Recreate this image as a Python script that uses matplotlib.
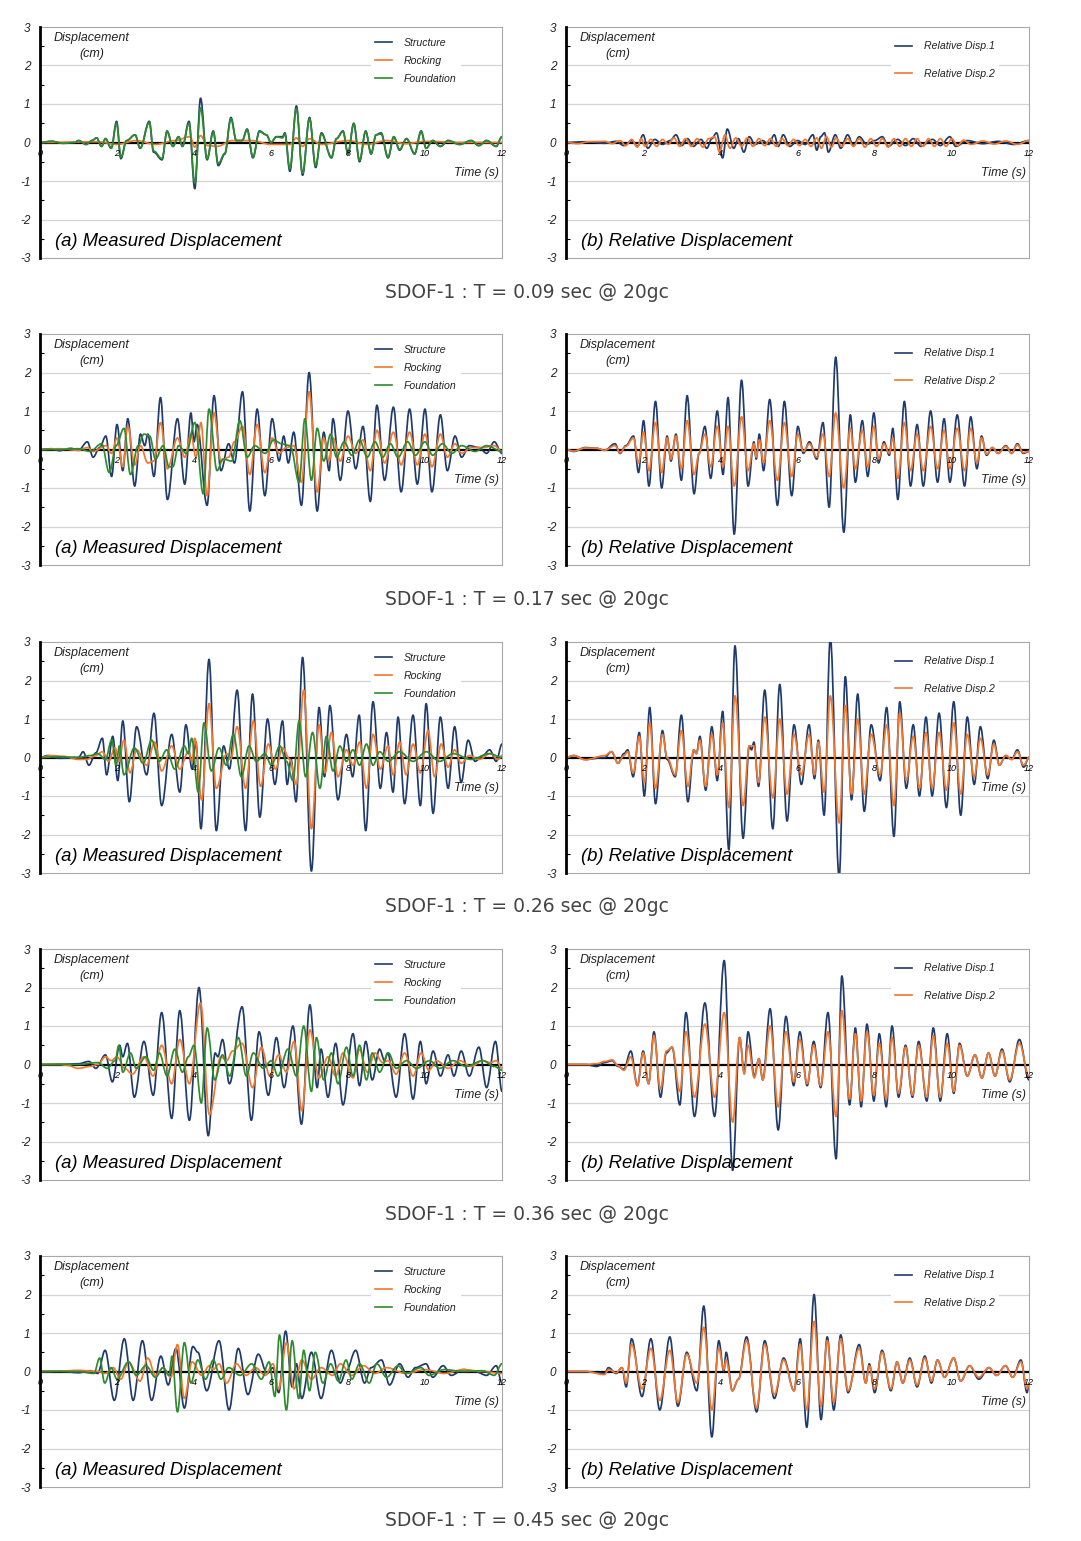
import matplotlib.pyplot as plt
from matplotlib.lines import Line2D
from matplotlib.path import Path
from matplotlib.patches import PathPatch

plt.rcParams['font.family'] = ['Liberation Sans', 'DejaVu Sans']

# periods shown in the captions
periods = ['0.09', '0.17', '0.26', '0.36', '0.45']
legend_a = ['Structure', 'Rocking', 'Foundation']
legend_b = ['Relative Disp.1', 'Relative Disp.2']
time_ticks = [0, 2, 4, 6, 8, 10, 12]

# (time s, displacement cm) peaks
p009_structure = [(0, 0), (0.3, 0.03), (0.6, -0.02), (0.9, 0.0), (1.0, 0.05), (1.2, -0.05), (1.35, 0.05), (1.47, 0.12),
                  (1.6, -0.1), (1.7, 0.1), (1.85, -0.15), (1.99, 0.55), (2.1, -0.42), (2.25, 0.05), (2.47, 0.2), (2.6, -0.15),
                  (2.84, 0.55), (2.95, -0.25), (3.17, -0.45), (3.3, 0.3), (3.45, -0.1), (3.6, 0.15), (3.7, -0.1), (3.87, 0.55),
                  (4.02, -1.2), (4.17, 1.15), (4.34, -0.45), (4.5, 0.3), (4.63, -0.6), (4.8, -0.3), (4.96, 0.65), (5.1, 0.05),
                  (5.25, 0.05), (5.38, 0.35), (5.53, -0.4), (5.7, 0.3), (5.88, 0.2), (6.0, 0.0), (6.14, 0.15), (6.3, 0.15),
                  (6.36, 0.25), (6.49, -0.75), (6.66, 0.95), (6.82, -0.85), (7.0, 0.65), (7.16, -0.65), (7.31, 0.25), (7.57, -0.4),
                  (7.7, 0.1), (7.87, 0.3), (8.0, -0.3), (8.15, 0.5), (8.3, -0.5), (8.46, 0.3), (8.6, -0.3), (8.73, 0.2),
                  (8.86, 0.25), (9.04, -0.4), (9.19, 0.15), (9.34, -0.2), (9.52, 0.1), (9.73, -0.3), (9.9, 0.3), (10.03, -0.15),
                  (10.2, 0.05), (10.4, -0.1), (10.6, 0.05), (10.9, -0.05), (11.2, 0.05), (11.4, -0.08), (11.6, 0.05), (11.85, -0.1),
                  (12, 0.15)]
p009_rocking = [(0, 0), (1.5, 0.02), (2.0, -0.05), (2.5, 0.05), (3.0, -0.05), (3.5, 0.05), (3.9, 0.15), (4.02, -0.12),
                (4.17, 0.18), (4.35, -0.08), (4.6, -0.1), (5.0, 0.05), (5.5, 0.05), (6.0, -0.05), (6.5, -0.05), (6.66, 0.12),
                (6.82, -0.1), (7.0, 0.1), (7.3, -0.05), (8.0, 0.05), (8.5, -0.05), (9.0, 0.05), (9.5, -0.03), (10, 0.03),
                (11, 0), (12, 0)]
p009_foundation = [(0, 0), (0.3, 0.03), (0.6, -0.02), (0.9, 0.0), (1.0, 0.05), (1.2, -0.05), (1.35, 0.05), (1.47, 0.12),
                   (1.6, -0.1), (1.7, 0.1), (1.85, -0.15), (1.99, 0.5), (2.1, -0.38), (2.25, 0.05), (2.47, 0.2), (2.6, -0.15),
                   (2.84, 0.52), (2.95, -0.22), (3.17, -0.42), (3.3, 0.28), (3.45, -0.1), (3.6, 0.15), (3.7, -0.1), (3.87, 0.5),
                   (4.02, -1.05), (4.17, 0.9), (4.34, -0.42), (4.5, 0.28), (4.63, -0.55), (4.8, -0.28), (4.96, 0.62), (5.1, 0.05),
                   (5.25, 0.05), (5.38, 0.33), (5.53, -0.38), (5.7, 0.28), (5.88, 0.2), (6.0, 0.0), (6.14, 0.15), (6.3, 0.12),
                   (6.36, 0.22), (6.49, -0.68), (6.66, 0.88), (6.82, -0.8), (7.0, 0.62), (7.16, -0.6), (7.31, 0.22), (7.57, -0.38),
                   (7.7, 0.1), (7.87, 0.28), (8.0, -0.28), (8.15, 0.48), (8.3, -0.46), (8.46, 0.28), (8.6, -0.28), (8.73, 0.2),
                   (8.86, 0.22), (9.04, -0.38), (9.19, 0.15), (9.34, -0.18), (9.52, 0.1), (9.73, -0.28), (9.9, 0.28), (10.03, -0.15),
                   (10.2, 0.05), (10.4, -0.1), (10.6, 0.05), (10.9, -0.05), (11.2, 0.05), (11.4, -0.08), (11.6, 0.05), (11.85, -0.1),
                   (12, 0.15)]
p009_rel1 = [(0, 0), (0.5, 0.02), (1.0, -0.02), (1.3, 0.03), (1.5, -0.08), (1.7, 0.05), (1.85, -0.1), (2.0, 0.2),
             (2.12, -0.15), (2.3, 0.08), (2.5, -0.05), (2.7, 0.05), (2.85, 0.2), (3.0, -0.08), (3.15, 0.1), (3.3, -0.1),
             (3.5, 0.08), (3.65, -0.15), (3.78, 0.1), (3.9, 0.25), (4.06, -0.4), (4.18, 0.35), (4.35, -0.15), (4.47, 0.1),
             (4.61, -0.25), (4.75, 0.15), (4.9, -0.05), (5.1, 0.05), (5.25, -0.05), (5.4, 0.2), (5.5, -0.1), (5.63, 0.2),
             (5.8, -0.1), (6.0, 0.05), (6.2, -0.05), (6.4, 0.2), (6.5, -0.2), (6.6, 0.15), (6.7, 0.25), (6.8, -0.25),
             (6.98, 0.2), (7.12, -0.15), (7.3, 0.2), (7.45, -0.08), (7.6, 0.15), (7.8, -0.05), (8.0, 0.05), (8.2, 0.15),
             (8.35, -0.1), (8.6, 0.08), (8.8, -0.08), (9.0, 0.1), (9.2, -0.1), (9.5, 0.08), (9.7, -0.08), (9.95, 0.15),
             (10.1, -0.1), (10.4, 0.05), (10.8, -0.03), (11.2, 0.03), (11.6, -0.05), (12, 0.05)]
p009_rel2 = [(0, 0), (0.3, -0.03), (0.6, 0.02), (1.0, 0.03), (1.2, -0.03), (1.4, 0.05), (1.55, -0.08), (1.7, 0.08),
             (1.85, -0.12), (1.95, 0.1), (2.05, -0.1), (2.2, 0.08), (2.35, -0.1), (2.5, 0.08), (2.65, -0.05), (2.8, 0.12),
             (2.95, -0.1), (3.1, 0.1), (3.25, -0.1), (3.4, 0.1), (3.55, -0.12), (3.7, 0.1), (3.85, 0.15), (3.98, -0.25),
             (4.12, 0.2), (4.25, -0.15), (4.4, 0.12), (4.55, -0.1), (4.7, 0.12), (4.85, -0.1), (5.0, 0.1), (5.15, -0.08),
             (5.3, 0.1), (5.45, -0.1), (5.6, 0.1), (5.75, -0.08), (5.9, 0.08), (6.05, -0.08), (6.2, 0.08), (6.35, -0.1),
             (6.5, 0.12), (6.62, -0.15), (6.75, 0.15), (6.88, -0.12), (7.0, 0.12), (7.15, -0.1), (7.3, 0.1), (7.45, -0.1),
             (7.6, 0.1), (7.75, -0.12), (7.9, 0.1), (8.05, -0.1), (8.2, 0.1), (8.35, -0.12), (8.5, 0.1), (8.65, -0.1),
             (8.8, 0.1), (8.95, -0.1), (9.1, 0.1), (9.25, -0.1), (9.4, 0.1), (9.55, -0.1), (9.7, 0.1), (9.85, -0.1),
             (10.0, 0.1), (10.15, -0.08), (10.3, 0.06), (10.5, -0.05), (10.8, 0.04), (11.1, -0.04), (11.4, 0.04), (11.7, -0.05),
             (12, 0.05)]

p017_structure = [(0, 0), (0.3, 0.02), (0.5, -0.03), (0.8, 0.03), (1.0, -0.02), (1.23, 0.2), (1.38, -0.2), (1.55, 0.05),
                  (1.71, 0.35), (1.86, -0.7), (2.0, 0.65), (2.15, -0.55), (2.28, 0.8), (2.46, -0.95), (2.61, 0.4), (2.72, 0.1),
                  (2.8, 0.4), (2.96, -0.7), (3.13, 1.35), (3.31, -1.3), (3.57, 0.8), (3.76, -0.9), (3.92, 0.95), (4.0, 0.2),
                  (4.08, 0.65), (4.34, -1.45), (4.52, 1.4), (4.7, -0.55), (4.9, 0.15), (5.05, -0.35), (5.26, 1.5), (5.45, -1.6),
                  (5.64, 1.05), (5.84, -1.2), (6.03, 0.8), (6.21, -0.3), (6.33, 0.35), (6.45, -0.35), (6.59, 0.45), (6.79, -1.45),
                  (6.99, 2.0), (7.2, -1.6), (7.37, 0.45), (7.51, -0.55), (7.61, 0.8), (7.8, -0.8), (8.0, 1.0), (8.2, -0.5),
                  (8.39, 0.6), (8.58, -1.35), (8.75, 1.15), (8.95, -0.8), (9.18, 1.1), (9.38, -1.1), (9.6, 1.05), (9.8, -0.9),
                  (10.0, 1.05), (10.18, -1.1), (10.4, 0.9), (10.58, -0.55), (10.78, 0.35), (10.95, -0.2), (11.15, 0.1), (11.4, 0.05),
                  (11.6, -0.1), (11.8, 0.2), (12, -0.1)]
p017_rocking = [(0, 0), (0.5, 0.02), (1.0, -0.02), (1.23, 0.05), (1.38, -0.05), (1.71, 0.1), (1.86, -0.1), (2.0, 0.3),
                (2.15, -0.45), (2.28, 0.6), (2.46, -0.4), (2.61, 0.1), (2.8, -0.35), (2.96, -0.3), (3.13, 0.7), (3.31, -0.5),
                (3.57, 0.3), (3.76, -0.2), (3.92, 0.4), (4.05, -0.2), (4.18, 0.7), (4.34, -1.2), (4.52, 0.95), (4.7, -0.3),
                (4.9, -0.2), (5.05, 0.2), (5.26, 0.6), (5.45, -0.65), (5.64, 0.65), (5.84, -0.6), (6.03, 0.3), (6.21, -0.1),
                (6.4, 0.05), (6.59, 0.1), (6.79, -0.85), (6.99, 1.5), (7.2, -1.1), (7.37, 0.3), (7.51, -0.3), (7.61, 0.3),
                (7.8, -0.3), (8.0, 0.35), (8.2, -0.1), (8.39, 0.25), (8.58, -0.55), (8.75, 0.5), (8.95, -0.35), (9.18, 0.45),
                (9.38, -0.4), (9.6, 0.45), (9.8, -0.4), (10.0, 0.4), (10.18, -0.45), (10.4, 0.4), (10.58, -0.2), (10.78, 0.15),
                (10.95, -0.1), (11.2, 0.05), (11.5, 0.05), (11.8, 0.1), (12, -0.05)]
p017_foundation = [(0, 0), (0.5, 0.0), (1.0, 0.02), (1.3, -0.05), (1.6, 0.15), (1.8, -0.6), (1.98, 0.1), (2.18, 0.55),
                   (2.35, -0.65), (2.55, 0.1), (2.7, 0.4), (2.85, 0.35), (3.0, -0.25), (3.2, 0.1), (3.35, -0.45), (3.45, -0.45),
                   (3.6, 0.1), (3.8, -0.1), (4.02, 0.7), (4.24, -1.15), (4.39, 1.05), (4.6, -0.55), (4.75, -0.25), (4.98, -0.3),
                   (5.19, 0.75), (5.38, -0.2), (5.58, 0.1), (5.85, -0.1), (6.07, 0.25), (6.27, 0.15), (6.5, 0.1), (6.73, -0.85),
                   (6.88, 0.8), (7.05, -0.8), (7.2, 0.55), (7.37, -0.3), (7.55, 0.4), (7.7, -0.2), (7.9, 0.2), (8.1, -0.15),
                   (8.3, 0.25), (8.5, -0.2), (8.7, 0.2), (8.9, -0.2), (9.1, 0.15), (9.3, -0.2), (9.55, 0.2), (9.75, -0.15),
                   (10.0, 0.2), (10.2, -0.15), (10.45, 0.15), (10.7, -0.1), (10.95, 0.1), (11.3, -0.05), (11.6, 0.1), (12, -0.05)]
p017_rel1 = [(0, 0), (0.2, -0.05), (0.5, 0.05), (0.8, 0.03), (1.0, -0.02), (1.27, 0.15), (1.4, -0.1), (1.55, 0.1),
             (1.75, 0.35), (1.88, -0.6), (2.01, 0.75), (2.15, -0.95), (2.32, 1.25), (2.48, -1.0), (2.62, 0.35), (2.72, -0.3),
             (2.85, 0.4), (2.99, -0.8), (3.14, 1.4), (3.32, -1.15), (3.45, -0.1), (3.6, 0.6), (3.75, -0.75), (3.92, 1.0),
             (4.07, -0.65), (4.2, 1.35), (4.36, -2.2), (4.55, 1.8), (4.72, -0.95), (4.87, 0.2), (4.93, -0.25), (5.01, 0.4),
             (5.12, -0.55), (5.28, 1.3), (5.48, -1.45), (5.66, 1.25), (5.85, -1.2), (6.01, 0.6), (6.15, -0.1), (6.31, 0.2),
             (6.5, -0.25), (6.66, 0.7), (6.82, -1.5), (6.99, 2.4), (7.2, -2.15), (7.37, 0.9), (7.5, -0.85), (7.68, 0.75),
             (7.82, -0.7), (7.98, 0.95), (8.1, -0.35), (8.24, 0.2), (8.38, -0.15), (8.47, 0.55), (8.6, -1.3), (8.77, 1.25),
             (8.93, -0.95), (9.1, 0.65), (9.26, -0.95), (9.45, 1.0), (9.63, -0.85), (9.8, 0.8), (9.95, -0.85), (10.14, 0.9),
             (10.33, -0.95), (10.49, 0.85), (10.65, -0.5), (10.77, 0.35), (10.9, -0.15), (11.05, 0.05), (11.2, -0.1), (11.4, 0.1),
             (11.55, -0.1), (11.7, 0.15), (11.85, -0.1), (12, -0.05)]
p017_rel2 = [(0, 0), (0.2, -0.04), (0.5, 0.04), (0.8, 0.03), (1.0, -0.02), (1.27, 0.1), (1.4, -0.08), (1.55, 0.08),
             (1.75, 0.3), (1.88, -0.35), (2.01, 0.45), (2.15, -0.55), (2.32, 0.7), (2.48, -0.6), (2.62, 0.3), (2.72, -0.25),
             (2.85, 0.35), (2.99, -0.5), (3.14, 0.75), (3.32, -0.65), (3.45, -0.1), (3.6, 0.4), (3.75, -0.45), (3.92, 0.6),
             (4.07, -0.45), (4.2, 0.6), (4.36, -0.95), (4.55, 0.85), (4.72, -0.55), (4.87, 0.15), (4.93, -0.2), (5.01, 0.25),
             (5.12, -0.35), (5.28, 0.75), (5.48, -0.8), (5.66, 0.7), (5.85, -0.7), (6.01, 0.4), (6.15, -0.05), (6.31, 0.15),
             (6.5, -0.2), (6.66, 0.4), (6.82, -0.7), (6.99, 0.95), (7.2, -1.0), (7.37, 0.55), (7.5, -0.5), (7.68, 0.5),
             (7.82, -0.45), (7.98, 0.6), (8.1, -0.25), (8.24, 0.15), (8.38, -0.1), (8.47, 0.3), (8.6, -0.75), (8.77, 0.7),
             (8.93, -0.55), (9.1, 0.4), (9.26, -0.55), (9.45, 0.6), (9.63, -0.5), (9.8, 0.5), (9.95, -0.5), (10.14, 0.55),
             (10.33, -0.55), (10.49, 0.55), (10.65, -0.35), (10.77, 0.3), (10.9, -0.12), (11.05, 0.05), (11.2, -0.1), (11.4, 0.08),
             (11.55, -0.1), (11.7, 0.12), (11.85, -0.08), (12, -0.05)]

p026_structure = [(0, 0), (0.2, 0.05), (0.5, -0.02), (1.0, 0.0), (1.12, 0.15), (1.27, -0.2), (1.45, 0.12), (1.62, 0.5),
                  (1.73, -0.45), (1.89, 0.55), (2.02, -0.6), (2.15, 0.95), (2.32, -1.15), (2.51, 0.8), (2.77, -0.45), (2.96, 1.15),
                  (3.16, -1.25), (3.42, 0.6), (3.63, -0.9), (3.79, 0.85), (3.95, -0.3), (4.05, 0.4), (4.18, -1.85), (4.39, 2.55),
                  (4.58, -1.9), (4.77, 0.3), (4.92, -0.3), (5.12, 1.75), (5.34, -1.9), (5.52, 1.65), (5.71, -1.55), (5.91, 1.0),
                  (6.1, -0.7), (6.3, 0.95), (6.42, -0.7), (6.52, -0.05), (6.65, -1.15), (6.82, 2.6), (7.05, -2.95), (7.25, 1.3),
                  (7.39, -0.5), (7.53, 1.35), (7.74, -1.1), (7.96, 0.6), (8.12, -0.5), (8.29, 1.1), (8.46, -1.9), (8.65, 1.45),
                  (8.84, -0.8), (9.0, 0.65), (9.17, -0.9), (9.3, 1.05), (9.47, -1.2), (9.69, 1.1), (9.88, -1.25), (10.03, 1.4),
                  (10.21, -1.45), (10.4, 1.05), (10.6, -0.8), (10.77, 0.8), (10.94, -0.65), (11.12, 0.45), (11.3, -0.1), (11.5, 0.05),
                  (11.68, 0.2), (11.85, -0.1), (12, 0.35)]
p026_rocking = [(0, 0), (0.3, 0.05), (0.6, 0.03), (1.0, -0.05), (1.2, -0.05), (1.45, 0.05), (1.62, 0.15), (1.78, -0.1),
                (1.95, 0.25), (2.05, -0.1), (2.18, 0.45), (2.34, -0.4), (2.51, 0.2), (2.77, -0.2), (2.98, 0.4), (3.16, -0.35),
                (3.42, 0.3), (3.63, -0.3), (3.85, 0.15), (3.95, -0.1), (4.02, 0.5), (4.2, -1.1), (4.39, 1.4), (4.58, -0.8),
                (4.85, 0.1), (4.95, -0.05), (5.12, 0.8), (5.34, -0.8), (5.54, 0.95), (5.73, -0.75), (5.93, 0.35), (6.12, -0.3),
                (6.3, 0.25), (6.49, -0.05), (6.66, -0.7), (6.85, 1.75), (7.05, -1.85), (7.25, 0.85), (7.4, -0.4), (7.57, 0.65),
                (7.74, -0.5), (7.96, 0.2), (8.13, -0.2), (8.3, 0.4), (8.48, -0.8), (8.65, 0.6), (8.84, -0.3), (9.04, 0.3),
                (9.17, -0.45), (9.34, 0.4), (9.51, -0.45), (9.69, 0.35), (9.88, -0.4), (10.08, 0.7), (10.25, -0.5), (10.42, 0.35),
                (10.6, -0.25), (10.77, 0.2), (10.94, -0.15), (11.15, 0.05), (11.4, -0.05), (11.7, 0.1), (11.9, -0.05), (12, 0.05)]
p026_foundation = [(0, 0), (0.5, 0.02), (1.0, 0.0), (1.3, 0.05), (1.5, 0.1), (1.7, -0.05), (1.86, 0.45), (1.98, -0.2),
                   (2.06, 0.3), (2.18, -0.45), (2.45, 0.25), (2.68, -0.15), (2.9, 0.45), (3.1, -0.1), (3.29, 0.2), (3.5, -0.3),
                   (3.75, 0.3), (3.85, 0.1), (3.94, 0.5), (4.11, -0.9), (4.26, 0.9), (4.45, -0.35), (4.65, 0.25), (4.84, -0.2),
                   (5.02, 0.6), (5.23, -0.5), (5.43, 0.3), (5.62, -0.1), (5.84, 0.1), (6.01, -0.2), (6.23, 0.3), (6.4, -0.1),
                   (6.57, -0.6), (6.73, 0.95), (6.9, -0.5), (7.08, 0.65), (7.27, -0.8), (7.44, 0.55), (7.61, -0.35), (7.79, 0.3),
                   (7.96, -0.1), (8.13, 0.2), (8.3, -0.2), (8.48, 0.35), (8.65, -0.2), (8.82, 0.15), (9.05, -0.1), (9.34, 0.15),
                   (9.69, -0.1), (10.03, 0.15), (10.38, -0.1), (10.73, 0.1), (11.2, -0.05), (11.68, 0.1), (12, 0)]
p026_rel1 = [(0, 0), (0.2, 0.05), (0.5, -0.05), (1.0, 0.0), (1.18, 0.15), (1.35, -0.15), (1.5, 0.1), (1.6, 0.2),
             (1.74, -0.5), (1.9, 0.65), (2.03, -1.0), (2.17, 1.3), (2.32, -1.2), (2.5, 0.7), (2.62, -0.05), (2.83, -0.5),
             (2.99, 1.1), (3.16, -1.15), (3.31, 0.2), (3.38, 0.1), (3.47, 0.55), (3.62, -0.85), (3.78, 0.8), (3.92, -0.6),
             (4.06, 1.2), (4.22, -2.4), (4.38, 2.9), (4.59, -2.1), (4.75, 0.3), (4.81, 0.2), (4.87, 0.4), (4.99, -0.75),
             (5.15, 1.75), (5.36, -1.85), (5.54, 1.9), (5.73, -1.65), (5.91, 0.85), (6.1, -0.7), (6.3, 0.85), (6.44, -0.55),
             (6.54, 0.45), (6.69, -1.5), (6.85, 3.1), (7.08, -3.1), (7.24, 2.1), (7.4, -1.1), (7.56, 1.65), (7.73, -1.4),
             (7.91, 0.85), (8.14, -0.6), (8.31, 1.3), (8.5, -2.05), (8.65, 1.45), (8.82, -0.8), (9.0, 0.85), (9.16, -1.0),
             (9.33, 1.05), (9.49, -1.0), (9.67, 1.15), (9.86, -1.3), (10.05, 1.45), (10.23, -1.5), (10.4, 1.05), (10.58, -0.7),
             (10.74, 0.8), (10.93, -0.55), (11.09, 0.45), (11.23, -0.2), (11.4, 0.05), (11.55, -0.05), (11.7, 0.2), (11.86, -0.25),
             (12, 0)]
p026_rel2 = [(0, 0), (0.2, 0.05), (0.5, -0.06), (1.0, 0.05), (1.18, 0.15), (1.35, -0.15), (1.5, 0.05), (1.6, 0.15),
             (1.74, -0.4), (1.9, 0.55), (2.03, -0.65), (2.17, 0.9), (2.32, -0.8), (2.5, 0.6), (2.62, 0.0), (2.83, -0.45),
             (2.99, 0.7), (3.16, -0.75), (3.31, 0.2), (3.38, 0.1), (3.47, 0.45), (3.62, -0.75), (3.78, 0.6), (3.92, -0.45),
             (4.06, 0.9), (4.22, -1.3), (4.38, 1.6), (4.59, -1.25), (4.75, 0.3), (4.87, 0.3), (4.99, -0.65), (5.15, 1.05),
             (5.36, -1.05), (5.54, 1.0), (5.73, -0.95), (5.91, 0.6), (6.1, -0.45), (6.3, 0.6), (6.44, -0.45), (6.54, 0.4),
             (6.69, -0.9), (6.85, 1.6), (7.08, -1.7), (7.24, 1.35), (7.4, -0.95), (7.56, 1.0), (7.73, -0.95), (7.91, 0.6),
             (8.14, -0.45), (8.31, 0.85), (8.5, -1.25), (8.65, 1.15), (8.82, -0.6), (9.0, 0.55), (9.16, -0.8), (9.33, 0.65),
             (9.49, -0.8), (9.67, 0.65), (9.86, -0.85), (10.05, 0.9), (10.23, -0.95), (10.4, 0.6), (10.58, -0.5), (10.74, 0.5),
             (10.93, -0.45), (11.09, 0.35), (11.23, -0.2), (11.4, 0.05), (11.55, -0.05), (11.7, 0.15), (11.86, -0.2), (12, 0)]

p036_structure = [(0, 0), (0.5, 0.0), (1.0, 0.02), (1.27, 0.08), (1.45, -0.1), (1.7, 0.25), (1.88, -0.45), (2.07, 0.5),
                  (2.15, 0.2), (2.27, 0.55), (2.45, -0.85), (2.7, 0.6), (2.94, -0.8), (3.16, 1.35), (3.42, -1.4), (3.63, 1.4),
                  (3.88, -1.45), (4.13, 2.0), (4.37, -1.85), (4.55, 0.3), (4.62, 0.2), (4.74, 0.65), (4.92, -0.5), (5.25, 1.5),
                  (5.49, -1.45), (5.69, 0.85), (5.93, -0.8), (6.14, 0.7), (6.34, -0.6), (6.57, 1.0), (6.79, -1.55), (7.01, 1.55),
                  (7.2, -0.6), (7.3, 0.4), (7.48, -0.85), (7.68, 0.55), (7.87, -1.05), (8.13, 0.8), (8.3, -0.55), (8.46, 0.6),
                  (8.63, -0.4), (8.82, 0.4), (8.95, 0.1), (9.03, 0.3), (9.25, -0.85), (9.47, 0.8), (9.69, -0.9), (9.88, 0.6),
                  (10.03, -0.5), (10.21, 0.35), (10.4, -0.3), (10.6, 0.25), (10.75, -0.3), (10.94, 0.35), (11.15, -0.3), (11.4, 0.45),
                  (11.6, -0.6), (11.83, 0.6), (12, -0.7)]
p036_rocking = [(0, 0), (0.5, 0.0), (0.7, -0.02), (1.0, -0.1), (1.3, -0.05), (1.5, 0.0), (1.7, 0.2), (1.85, 0.1),
                (2.0, 0.2), (2.2, -0.1), (2.4, -0.25), (2.7, 0.2), (2.94, -0.3), (3.16, 0.5), (3.42, -0.5), (3.63, 0.65),
                (3.88, -0.5), (4.17, 1.6), (4.4, -1.3), (4.7, 0.2), (4.85, 0.1), (5.0, 0.35), (5.25, 0.55), (5.52, -0.6),
                (5.75, 0.45), (5.97, -0.3), (6.2, 0.25), (6.4, -0.2), (6.6, 0.6), (6.8, -1.2), (7.01, 0.9), (7.25, -0.35),
                (7.48, 0.2), (7.68, -0.3), (7.87, 0.3), (8.13, -0.35), (8.3, 0.4), (8.5, -0.2), (8.7, 0.3), (8.9, 0.05),
                (9.05, 0.1), (9.25, -0.25), (9.47, 0.3), (9.69, -0.3), (9.9, 0.3), (10.1, -0.15), (10.3, 0.1), (10.6, -0.1),
                (10.9, 0.1), (11.2, -0.05), (11.5, 0.1), (11.7, 0.05), (11.85, 0.1), (12, -0.1)]
p036_foundation = [(0, 0), (0.5, 0.01), (1.0, 0.0), (1.5, 0.05), (1.75, -0.1), (1.95, 0.1), (2.05, 0.5), (2.15, -0.2),
                   (2.35, 0.3), (2.5, -0.1), (2.75, 0.2), (2.95, -0.15), (3.1, 0.3), (3.3, -0.3), (3.5, 0.4), (3.7, -0.2),
                   (3.85, 0.2), (4.0, 0.5), (4.19, -1.0), (4.34, 0.95), (4.54, -0.4), (4.74, 0.25), (4.93, -0.3), (5.15, 0.7),
                   (5.36, -0.3), (5.54, 0.3), (5.8, -0.1), (6.01, 0.1), (6.18, -0.3), (6.44, 0.4), (6.66, -0.3), (6.85, 1.0),
                   (7.05, -0.7), (7.18, 0.7), (7.37, -0.4), (7.57, 0.3), (7.74, -0.5), (7.96, 0.45), (8.13, -0.3), (8.3, 0.5),
                   (8.48, -0.4), (8.63, 0.3), (8.82, -0.2), (9.05, 0.3), (9.25, -0.1), (9.52, 0.1), (9.78, -0.1), (10.12, 0.1),
                   (10.38, -0.1), (10.73, 0.1), (11.07, -0.05), (11.5, 0.1), (11.8, -0.05), (12, -0.15)]
p036_rel1 = [(0, 0), (0.5, 0.0), (0.8, -0.05), (1.0, 0.05), (1.2, 0.1), (1.35, -0.05), (1.5, -0.12), (1.68, 0.35),
             (1.85, -0.55), (2.0, 0.35), (2.14, -0.5), (2.28, 0.85), (2.45, -0.85), (2.6, 0.3), (2.75, 0.45), (2.95, -1.05),
             (3.11, 1.35), (3.33, -1.35), (3.6, 1.6), (3.85, -1.35), (4.1, 2.7), (4.32, -2.75), (4.5, 0.7), (4.62, -0.2),
             (4.72, 0.85), (4.88, -0.3), (5.0, 0.15), (5.1, -0.4), (5.29, 1.45), (5.5, -1.7), (5.7, 1.25), (5.9, -0.55),
             (6.06, 0.85), (6.25, -0.55), (6.42, 0.6), (6.6, -0.6), (6.79, 1.35), (7.0, -2.45), (7.15, 2.3), (7.35, -1.05),
             (7.5, 0.95), (7.65, -1.1), (7.8, 1.05), (7.98, -0.95), (8.12, 0.8), (8.3, -1.1), (8.45, 1.0), (8.62, -0.85),
             (8.8, 0.5), (8.98, -0.85), (9.14, 0.6), (9.35, -0.95), (9.52, 0.95), (9.7, -0.95), (9.88, 0.8), (10.05, -0.75),
             (10.2, 0.55), (10.4, -0.3), (10.6, 0.25), (10.78, -0.35), (10.95, 0.3), (11.12, -0.3), (11.3, 0.4), (11.5, -0.45),
             (11.75, 0.65), (12, -0.4)]
p036_rel2 = [(0, 0), (0.5, 0.0), (0.8, 0.02), (1.0, 0.08), (1.2, 0.12), (1.35, -0.03), (1.5, -0.15), (1.68, 0.2),
             (1.85, -0.55), (2.0, 0.3), (2.14, -0.5), (2.28, 0.75), (2.45, -0.65), (2.6, 0.35), (2.75, 0.45), (2.95, -0.7),
             (3.11, 0.85), (3.33, -0.85), (3.6, 1.05), (3.85, -0.85), (4.1, 1.35), (4.32, -1.5), (4.5, 0.7), (4.62, -0.25),
             (4.72, 0.5), (4.88, -0.35), (5.0, 0.15), (5.1, -0.4), (5.29, 1.0), (5.5, -1.1), (5.7, 0.85), (5.9, -0.45),
             (6.06, 0.65), (6.25, -0.5), (6.42, 0.5), (6.6, -0.55), (6.79, 0.85), (7.0, -1.35), (7.15, 1.4), (7.35, -0.9),
             (7.5, 0.8), (7.65, -0.95), (7.8, 0.85), (7.98, -0.8), (8.12, 0.55), (8.3, -0.9), (8.45, 0.7), (8.62, -0.75),
             (8.8, 0.45), (8.98, -0.8), (9.14, 0.5), (9.35, -0.85), (9.52, 0.75), (9.7, -0.85), (9.88, 0.55), (10.05, -0.7),
             (10.2, 0.5), (10.4, -0.3), (10.6, 0.25), (10.78, -0.35), (10.95, 0.3), (11.12, -0.3), (11.3, 0.35), (11.5, -0.4),
             (11.75, 0.55), (12, -0.3)]

p045_structure = [(0, 0), (0.5, 0.01), (1.0, -0.03), (1.3, 0.02), (1.5, -0.05), (1.69, 0.55), (1.93, -0.75), (2.19, 0.85),
                  (2.42, -0.75), (2.66, 0.8), (2.9, -0.75), (3.14, 0.4), (3.33, -0.35), (3.53, 0.6), (3.75, -0.95), (3.97, 0.65),
                  (4.1, 0.5), (4.33, -0.5), (4.65, 0.8), (4.91, -1.0), (5.15, 0.6), (5.4, -0.6), (5.67, 0.45), (5.9, -0.05),
                  (6.05, 0.1), (6.2, -0.55), (6.38, 1.05), (6.55, -0.4), (6.66, 0.2), (6.8, -0.7), (7.05, 0.5), (7.3, -0.7),
                  (7.57, 0.55), (7.8, -0.3), (7.95, 0.0), (8.2, 0.55), (8.43, -0.3), (8.6, 0.1), (8.87, 0.3), (9.08, -0.35),
                  (9.34, 0.2), (9.56, -0.15), (9.75, 0.1), (10.03, 0.2), (10.2, -0.15), (10.47, 0.15), (10.68, -0.1), (11.0, 0.05),
                  (11.3, 0.0), (11.6, -0.1), (11.85, 0.15), (12, -0.3)]
p045_rocking = [(0, 0), (0.5, 0.01), (1.0, 0.03), (1.5, 0.0), (1.7, -0.05), (1.9, 0.1), (2.1, -0.2), (2.3, 0.25),
                (2.6, -0.25), (2.8, 0.35), (3.0, -0.1), (3.2, 0.1), (3.4, -0.15), (3.57, 0.7), (3.75, -0.7), (3.95, 0.25),
                (4.2, -0.1), (4.4, 0.15), (4.5, 0.05), (4.65, 0.2), (4.85, -0.3), (5.1, 0.2), (5.35, -0.1), (5.6, 0.1),
                (5.85, -0.1), (6.05, 0.2), (6.2, -0.45), (6.4, 0.75), (6.6, -0.45), (6.8, 0.3), (7.05, -0.2), (7.3, 0.1),
                (7.6, -0.1), (7.8, 0.2), (8.1, -0.1), (8.4, 0.15), (8.7, -0.05), (9.0, 0.1), (9.5, -0.05), (10, 0.05),
                (10.5, -0.05), (11, 0.05), (11.5, 0), (12, -0.05)]
p045_foundation = [(0, 0), (1.0, 0.0), (1.4, -0.05), (1.55, 0.35), (1.68, -0.3), (1.85, 0.1), (2.0, -0.2), (2.3, 0.25),
                   (2.5, -0.1), (2.75, 0.15), (3.0, -0.15), (3.2, 0.1), (3.35, -0.1), (3.43, 0.4), (3.57, -1.05), (3.75, 0.75),
                   (3.92, -0.3), (4.1, 0.3), (4.3, -0.2), (4.5, 0.3), (4.7, -0.2), (4.9, 0.1), (5.2, -0.1), (5.5, 0.2),
                   (5.75, -0.2), (5.95, 0.25), (6.1, -0.65), (6.22, 0.95), (6.4, -1.0), (6.55, 0.8), (6.72, -0.7), (6.85, 0.55),
                   (7.0, -0.5), (7.15, 0.5), (7.35, -0.3), (7.55, 0.2), (7.75, -0.25), (7.95, 0.3), (8.1, -0.2), (8.3, 0.2),
                   (8.55, -0.3), (8.75, 0.2), (9.0, -0.15), (9.3, 0.15), (9.5, -0.05), (9.9, 0.1), (10.1, -0.1), (10.5, 0.05),
                   (11, 0.0), (11.5, 0.02), (11.8, -0.1), (12, 0.2)]
p045_rel1 = [(0, 0), (0.5, 0.0), (1.0, -0.05), (1.1, 0.1), (1.3, -0.05), (1.45, 0.1), (1.56, -0.4), (1.7, 0.85),
             (1.97, -0.65), (2.2, 0.85), (2.43, -1.0), (2.69, 0.9), (2.9, -0.9), (3.13, 0.5), (3.39, -0.5), (3.57, 1.7),
             (3.78, -1.7), (3.96, 0.8), (4.09, 0.0), (4.15, 0.5), (4.31, -0.5), (4.47, -0.2), (4.68, 0.9), (4.94, -1.05),
             (5.15, 0.8), (5.4, -0.7), (5.64, 0.35), (5.91, -0.5), (6.07, 0.85), (6.24, -1.45), (6.43, 2.0), (6.61, -1.25),
             (6.77, 0.9), (6.94, -1.0), (7.12, 0.95), (7.31, -0.55), (7.6, 0.7), (7.77, -0.3), (7.86, 0.2), (8.0, -0.55),
             (8.19, 0.55), (8.42, -0.5), (8.58, 0.25), (8.73, -0.3), (8.91, 0.35), (9.1, -0.4), (9.3, 0.4), (9.47, -0.3),
             (9.63, 0.3), (9.81, -0.15), (10.05, 0.35), (10.23, -0.25), (10.46, 0.15), (10.7, -0.2), (10.96, 0.1), (11.16, -0.1),
             (11.39, 0.15), (11.58, -0.15), (11.79, 0.3), (11.95, -0.55), (12, -0.3)]
p045_rel2 = [(0, 0), (0.5, 0.0), (1.0, -0.08), (1.1, 0.05), (1.3, -0.03), (1.45, 0.1), (1.56, -0.3), (1.7, 0.7),
             (1.97, -0.45), (2.2, 0.6), (2.43, -0.75), (2.69, 0.55), (2.9, -0.8), (3.13, 0.45), (3.39, -0.3), (3.57, 1.15),
             (3.78, -1.0), (3.96, 0.6), (4.09, 0.05), (4.15, 0.3), (4.31, -0.5), (4.47, -0.2), (4.68, 0.8), (4.94, -0.95),
             (5.15, 0.7), (5.4, -0.6), (5.64, 0.3), (5.91, -0.5), (6.07, 0.7), (6.24, -1.0), (6.43, 1.3), (6.61, -0.9),
             (6.77, 0.8), (6.94, -0.8), (7.12, 0.85), (7.31, -0.5), (7.6, 0.6), (7.77, -0.3), (7.86, 0.15), (8.0, -0.45),
             (8.19, 0.5), (8.42, -0.45), (8.58, 0.25), (8.73, -0.3), (8.91, 0.3), (9.1, -0.35), (9.3, 0.35), (9.47, -0.25),
             (9.63, 0.3), (9.81, -0.15), (10.05, 0.35), (10.23, -0.25), (10.46, 0.15), (10.7, -0.15), (10.96, 0.1), (11.16, -0.1),
             (11.39, 0.15), (11.58, -0.15), (11.79, 0.25), (11.95, -0.45), (12, -0.3)]

measured = [
    (p009_structure, p009_rocking, p009_foundation),
    (p017_structure, p017_rocking, p017_foundation),
    (p026_structure, p026_rocking, p026_foundation),
    (p036_structure, p036_rocking, p036_foundation),
    (p045_structure, p045_rocking, p045_foundation),
]
relative = [
    (p009_rel1, p009_rel2),
    (p017_rel1, p017_rel2),
    (p026_rel1, p026_rel2),
    (p036_rel1, p036_rel2),
    (p045_rel1, p045_rel2),
]

navy = '#1f3b6e'
orange = '#f07830'
green = '#2e8b2e'


def peak_path(pts):
    # smooth curve through the read peaks: flat tangent at every peak, like the recorded wave
    verts = [pts[0]]
    codes = [Path.MOVETO]
    for (t0, v0), (t1, v1) in zip(pts[:-1], pts[1:]):
        d = (t1 - t0) * 0.36
        verts += [(t0 + d, v0), (t1 - d, v1), (t1, v1)]
        codes += [Path.CURVE4] * 3
    return Path(verts, codes)


def setup(ax, series, colors, labels, tag, leg_anchor, leg_spacing):
    ax.set_xlim(0, 12)
    ax.set_ylim(-3, 3)
    for pts, c in zip(series, colors):
        ax.add_patch(PathPatch(peak_path(pts), fill=False, edgecolor=c, lw=1.25, zorder=3,
                               joinstyle='round', capstyle='round'))
    for g in (-2, -1, 1, 2):
        ax.axhline(g, color='#d4d4d4', lw=0.9, zorder=0)
    ax.axhline(0, color='black', lw=1.6, zorder=2)
    ax.set_xticks([])
    ax.set_yticks(range(-3, 4))
    ax.set_yticks([-2.5, -1.5, -0.5, 0.5, 1.5, 2.5], minor=True)
    ax.set_yticklabels([str(v) for v in range(-3, 4)], fontsize=8.5, style='italic', color='#222222')
    ax.tick_params(axis='y', which='major', length=0, pad=7)
    ax.tick_params(axis='y', which='minor', length=3, width=0.8, direction='in')
    for s in ('top', 'right', 'bottom'):
        ax.spines[s].set_color('#a8a8a8')
        ax.spines[s].set_linewidth(0.8)
    ax.spines['left'].set_linewidth(2.0)
    ax.spines['left'].set_zorder(4)
    for x in time_ticks:
        ax.text(x, -0.28, str(x), fontsize=6.5, style='italic', ha='center', va='center', color='black', zorder=4)
    ax.text(11.93, -0.78, 'Time (s)', fontsize=8.8, style='italic', ha='right', va='center', color='#222222')
    ax.text(0.35, 2.72, 'Displacement', fontsize=9, style='italic', ha='left', va='center', color='#222222')
    ax.text(1.34, 2.3, '(cm)', fontsize=9, style='italic', ha='center', va='center', color='#222222')
    ax.text(0.38, -2.57, tag, fontsize=13.3, style='italic', ha='left', va='center', color='black')
    handles = [Line2D([], [], color=c, lw=1.2) for c in colors]
    leg = ax.legend(handles, labels, loc='upper left', bbox_to_anchor=leg_anchor, bbox_transform=ax.transData,
                    frameon=True, fancybox=False, edgecolor='none', facecolor='white', framealpha=1,
                    prop={'size': 7.6, 'style': 'italic'}, handlelength=1.6, handletextpad=1.1,
                    labelspacing=leg_spacing, borderpad=0.4, borderaxespad=0)
    for txt in leg.get_texts():
        txt.set_color('#222222')
    leg.set_zorder(1)


fig = plt.figure(figsize=(10.81, 15.41), dpi=100)
W, H = 1081, 1541
row_tops = [27, 334, 642, 949, 1256]
cap_y = [293, 600, 907, 1214, 1521]

for i, top in enumerate(row_tops):
    bottom = 1 - (top + 231) / H
    ax_a = fig.add_axes([40 / W, bottom, 462 / W, 231 / H])
    setup(ax_a, measured[i], [navy, orange, green], legend_a, '(a) Measured Displacement', (8.6, 2.82), 0.74)
    ax_b = fig.add_axes([566 / W, bottom, 463 / W, 231 / H])
    setup(ax_b, relative[i], [navy, orange], legend_b, '(b) Relative Displacement', (8.42, 2.74), 1.64)
    fig.text(527 / W, 1 - cap_y[i] / H, 'SDOF-1 : T = %s sec @ 20gc' % periods[i],
             ha='center', va='center', fontsize=13.5, color='#444444', family=['DejaVu Sans'])

fig.savefig('out.png', dpi=100)
